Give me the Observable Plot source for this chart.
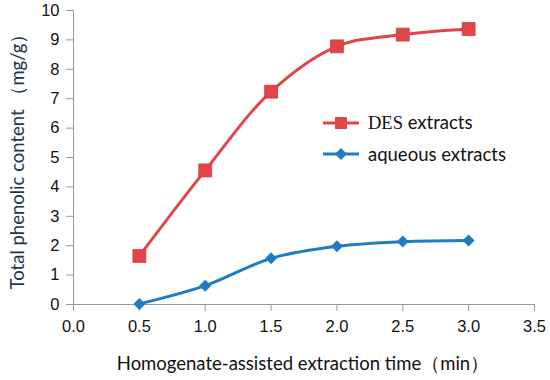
<!DOCTYPE html>
<html>
<head>
<meta charset="utf-8">
<script src="https://cdn.jsdelivr.net/npm/d3@7"></script>
<script src="https://cdn.jsdelivr.net/npm/@observablehq/plot@0.6"></script>
<style>
  html, body { margin: 0; padding: 0; background: #fff; }
  #wrap { position: relative; width: 550px; height: 380px; }
  #legend { position: absolute; left: 322px; top: 107px; font-family: Lato, "Open Sans", sans-serif; font-size: 18.5px; color: #111; }
  #legend .row { display: flex; align-items: center; height: 31px; }
  #legend svg { margin-right: 8px; }
  .serif { font-family: "Liberation Serif", "DejaVu Serif", serif; }
</style>
</head>
<body>
<div id="wrap"></div>
<script>
const times = [0.5, 1.0, 1.5, 2.0, 2.5, 3.0];
const desValues = [1.65, 4.56, 7.24, 8.78, 9.18, 9.37];
const aqueousValues = [0.02, 0.64, 1.57, 1.98, 2.14, 2.18];
const xTicks = [0, 0.5, 1.0, 1.5, 2.0, 2.5, 3.0, 3.5];
const yTicks = [0, 1, 2, 3, 4, 5, 6, 7, 8, 9, 10];
const seriesNames = ["DES extracts", "aqueous extracts"];
const red = "#e04649";
const blue = "#1f7cc1";

const des = times.map((t, i) => ({x: t, y: desValues[i]}));
const aq = times.map((t, i) => ({x: t, y: aqueousValues[i]}));

const chart = Plot.plot({
  width: 550,
  height: 380,
  marginLeft: 73,
  marginRight: 16,
  marginTop: 10,
  marginBottom: 76,
  style: { fontFamily: "'Liberation Sans', Arial, sans-serif", fontSize: "16.5px", color: "#111", background: "#fff" },
  x: { domain: [0, 3.5], ticks: xTicks, tickFormat: d3.format(".1f"), label: null },
  y: { domain: [0, 10], ticks: yTicks, label: null },
  marks: [
    Plot.ruleX([0], {stroke: "#999"}),
    Plot.ruleY([0], {stroke: "#999"}),
    Plot.axisX({ticks: xTicks, tickFormat: d3.format(".1f"), tickSize: 7, tickPadding: 9, stroke: "#999", fill: "#111", label: null}),
    Plot.axisY({ticks: yTicks, tickSize: 7, tickPadding: 7, stroke: "#999", fill: "#111", label: null}),
    Plot.line(des, {x: "x", y: "y", stroke: red, strokeWidth: 3, curve: "catmull-rom"}),
    Plot.line(aq, {x: "x", y: "y", stroke: blue, strokeWidth: 3, curve: "catmull-rom"}),
    Plot.dot(des, {x: "x", y: "y", symbol: "square", r: 7.3, fill: red, stroke: "#d63a3d", strokeWidth: 0.8}),
    Plot.dot(aq, {x: "x", y: "y", symbol: "diamond2", r: 5.4, fill: blue})
  ]
});

const wrap = document.getElementById("wrap");
wrap.appendChild(chart);

// axis titles
const svg = d3.select(chart);
svg.append("text")
  .attr("x", 303).attr("y", 370)
  .attr("text-anchor", "middle")
  .style("font-family", "Lato, 'Open Sans', sans-serif")
  .style("font-size", "18.5px")
  .attr("fill", "#111")
  .text("Homogenate-assisted extraction time（min）");
svg.append("text")
  .attr("transform", "translate(24,157) rotate(-90)")
  .attr("text-anchor", "middle")
  .style("font-family", "Lato, 'Open Sans', sans-serif")
  .style("font-size", "18.5px")
  .attr("fill", "#1d3550")
  .text("Total phenolic content （mg/g）");

// legend
const legend = document.createElement("div");
legend.id = "legend";
legend.innerHTML = `
  <div class="row"><svg width="38" height="16"><line x1="1" y1="8" x2="37" y2="8" stroke="${red}" stroke-width="3"/><rect x="13" y="2" width="12" height="12" fill="${red}"/></svg><span><span class="serif">DES</span> extracts</span></div>
  <div class="row"><svg width="38" height="16"><line x1="1" y1="8" x2="37" y2="8" stroke="${blue}" stroke-width="3"/><path d="M19,2 L25,8 L19,14 L13,8 Z" fill="${blue}"/></svg><span>${seriesNames[1]}</span></div>`;
wrap.appendChild(legend);
</script>
</body>
</html>
